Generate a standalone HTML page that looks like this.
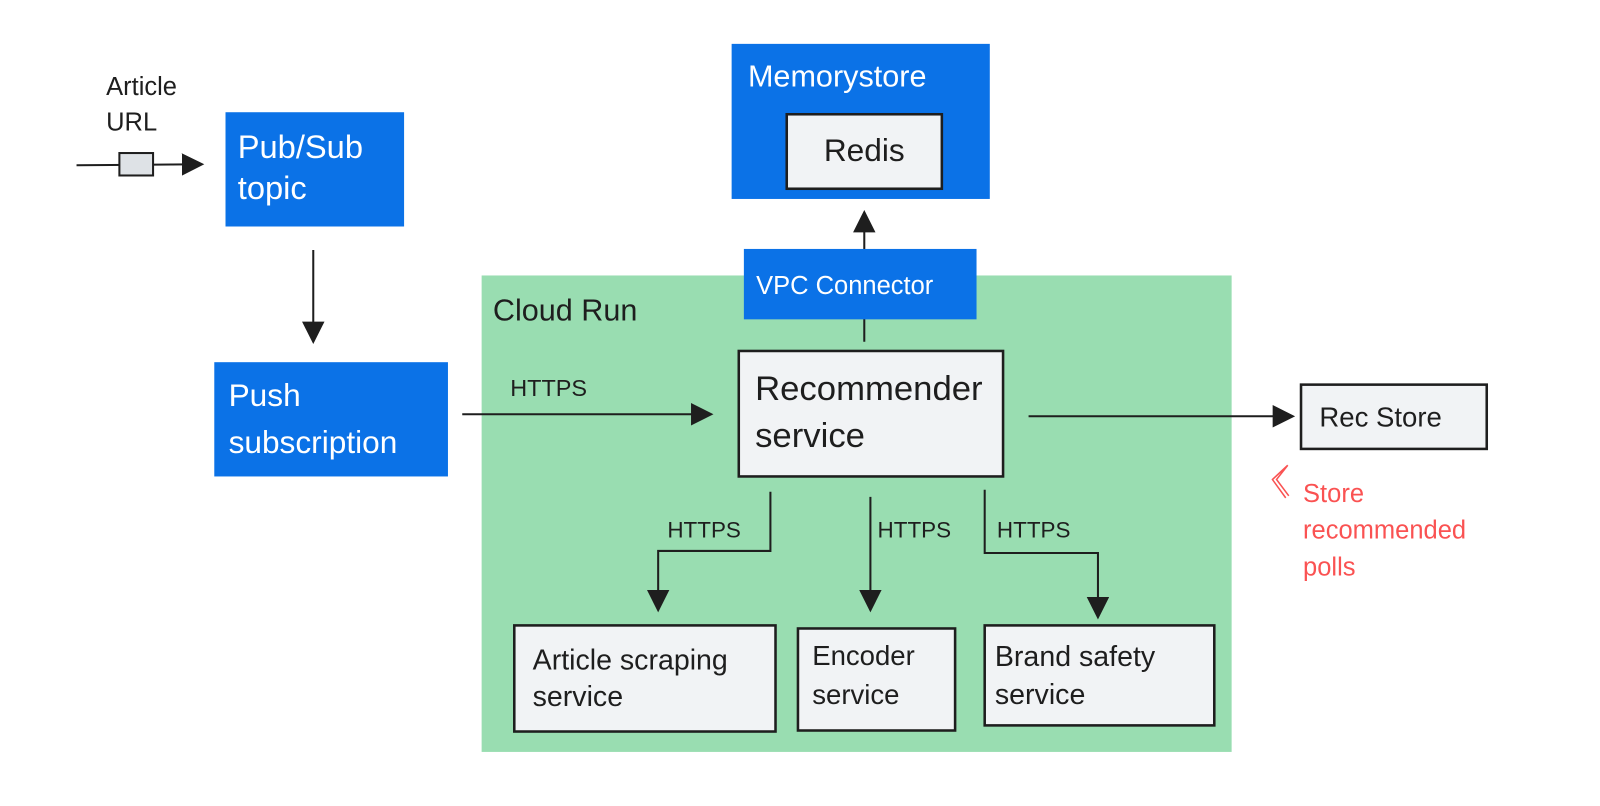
<!DOCTYPE html>
<html><head><meta charset="utf-8"><style>
html,body{margin:0;padding:0;background:#fff;}
svg{display:block;}
text{font-family:"Liberation Sans",sans-serif;}
</style></head><body>
<svg width="1600" height="806" viewBox="0 0 1568 790" preserveAspectRatio="none" xmlns="http://www.w3.org/2000/svg">
<defs>
<marker id="ah" viewBox="0 0 10 10" refX="9" refY="5" markerWidth="22" markerHeight="22" markerUnits="userSpaceOnUse" orient="auto"><path d="M0,0 L10,5 L0,10 z" fill="#1e1e1e"/></marker>
</defs>
<rect x="472" y="270" width="735" height="467" fill="#99ddb1"/>
<text x="483" y="314" font-size="30" fill="#1e1e1e">Cloud Run</text>

<text x="104" y="93" font-size="25" fill="#1e1e1e">Article</text>
<text x="104" y="128" font-size="25" fill="#1e1e1e">URL</text>
<line x1="75" y1="162" x2="198" y2="161" stroke="#1e1e1e" stroke-width="2" marker-end="url(#ah)"/>
<rect x="117" y="150" width="33" height="22" fill="#dee2e6" stroke="#1e1e1e" stroke-width="2"/>

<rect x="221" y="110" width="175" height="112" fill="#0b72e7"/>
<text x="233" y="155" font-size="32" fill="#fff">Pub/Sub</text>
<text x="233" y="195" font-size="32" fill="#fff">topic</text>
<line x1="307" y1="245" x2="307" y2="335" stroke="#1e1e1e" stroke-width="2" marker-end="url(#ah)"/>

<rect x="210" y="355" width="229" height="112" fill="#0b72e7"/>
<text x="224" y="398" font-size="31" fill="#fff">Push</text>
<text x="224" y="444" font-size="31" fill="#fff">subscription</text>

<text x="500" y="388" font-size="23" fill="#1e1e1e">HTTPS</text>
<line x1="453" y1="406" x2="697" y2="406" stroke="#1e1e1e" stroke-width="2" marker-end="url(#ah)"/>

<rect x="717" y="43" width="253" height="152" fill="#0b72e7"/>
<text x="733" y="85" font-size="30" fill="#fff">Memorystore</text>
<rect x="771" y="112" width="152" height="73" fill="#f1f3f5" stroke="#1e1e1e" stroke-width="2.5"/>
<text x="847" y="158" font-size="31" fill="#1e1e1e" text-anchor="middle">Redis</text>

<line x1="847" y1="335" x2="847" y2="208" stroke="#1e1e1e" stroke-width="2" marker-end="url(#ah)"/>
<rect x="729" y="244" width="228" height="69" fill="#0b72e7"/>
<text x="741" y="288" font-size="25" fill="#fff">VPC Connector</text>

<rect x="724" y="344" width="259" height="123" fill="#f1f3f5" stroke="#1e1e1e" stroke-width="2.5"/>
<text x="740" y="392" font-size="34" fill="#1e1e1e">Recommender</text>
<text x="740" y="438" font-size="34" fill="#1e1e1e">service</text>

<line x1="1008" y1="408" x2="1267" y2="408" stroke="#1e1e1e" stroke-width="2" marker-end="url(#ah)"/>
<rect x="1275" y="377" width="182" height="63" fill="#f1f3f5" stroke="#1e1e1e" stroke-width="2.5"/>
<text x="1293" y="418" font-size="27" fill="#1e1e1e">Rec Store</text>
<path d="M1262,456 L1247,470 L1260,488 M1262,456 L1251,470 L1263,486" stroke="#fa5252" stroke-width="1.5" fill="none"/>
<text x="1277" y="492" font-size="25" fill="#fa5252">Store</text>
<text x="1277" y="528" font-size="25" fill="#fa5252">recommended</text>
<text x="1277" y="564" font-size="25" fill="#fa5252">polls</text>

<polyline points="755,482 755,540 645,540 645,598" fill="none" stroke="#1e1e1e" stroke-width="2" marker-end="url(#ah)"/>
<text x="654" y="527" font-size="22" fill="#1e1e1e">HTTPS</text>
<line x1="853" y1="487" x2="853" y2="598" stroke="#1e1e1e" stroke-width="2" marker-end="url(#ah)"/>
<text x="860" y="527" font-size="22" fill="#1e1e1e">HTTPS</text>
<polyline points="965,480 965,542 1076,542 1076,605" fill="none" stroke="#1e1e1e" stroke-width="2" marker-end="url(#ah)"/>
<text x="977" y="527" font-size="22" fill="#1e1e1e">HTTPS</text>

<rect x="504" y="613" width="256" height="104" fill="#f1f3f5" stroke="#1e1e1e" stroke-width="2.5"/>
<text x="522" y="656" font-size="28" fill="#1e1e1e">Article scraping</text>
<text x="522" y="692" font-size="28" fill="#1e1e1e">service</text>
<rect x="782" y="616" width="154" height="100" fill="#f1f3f5" stroke="#1e1e1e" stroke-width="2.5"/>
<text x="796" y="652" font-size="27" fill="#1e1e1e">Encoder</text>
<text x="796" y="690" font-size="27" fill="#1e1e1e">service</text>
<rect x="965" y="613" width="225" height="98" fill="#f1f3f5" stroke="#1e1e1e" stroke-width="2.5"/>
<text x="975" y="653" font-size="28" fill="#1e1e1e">Brand safety</text>
<text x="975" y="690" font-size="28" fill="#1e1e1e">service</text>
</svg>
</body></html>
